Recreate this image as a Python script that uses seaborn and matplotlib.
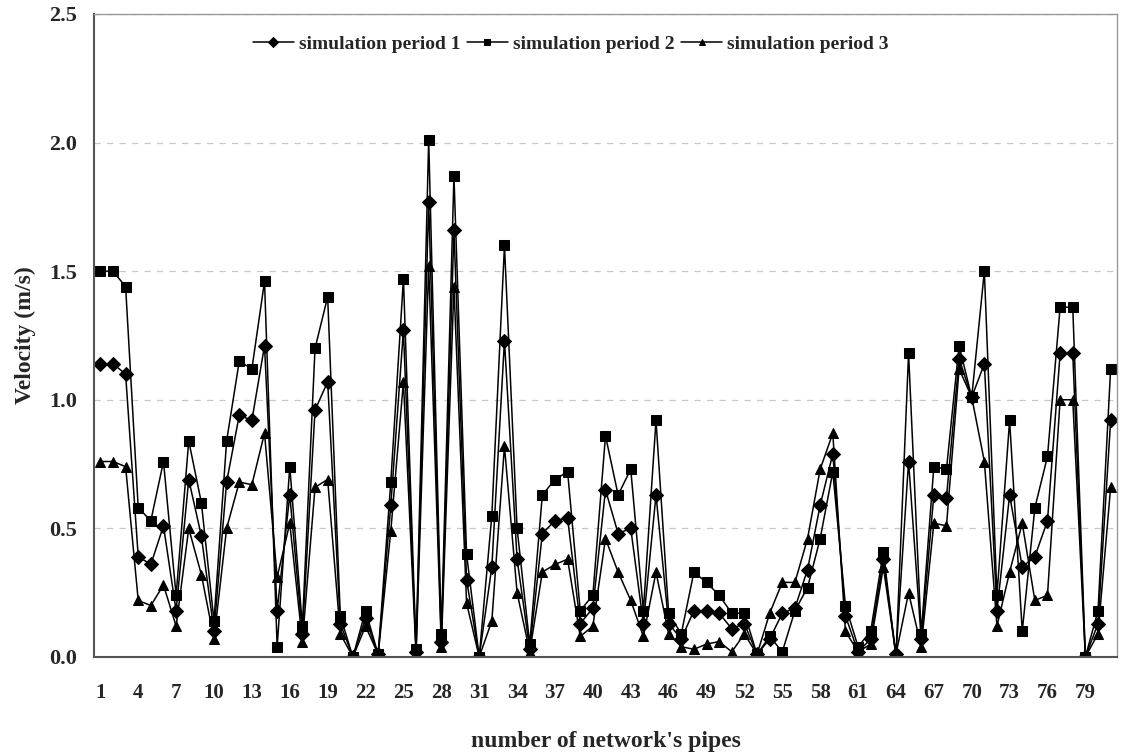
import numpy as np
import pandas as pd
import matplotlib
matplotlib.use('Agg')
import matplotlib.pyplot as plt
import seaborn as sns

# Velocities, pipe 1..81
pipes = list(range(1, 82))

period1 = [1.14, 1.14, 1.10, 0.39, 0.36, 0.51, 0.18, 0.69, 0.47, 0.10,
           0.68, 0.94, 0.92, 1.21, 0.18, 0.63, 0.09, 0.96, 1.07, 0.13,
           0.00, 0.15, 0.01, 0.59, 1.27, 0.02, 1.77, 0.06, 1.66, 0.30,
           0.00, 0.35, 1.23, 0.38, 0.03, 0.48, 0.53, 0.54, 0.13, 0.19,
           0.65, 0.48, 0.50, 0.13, 0.63, 0.13, 0.07, 0.18, 0.18, 0.17,
           0.11, 0.13, 0.01, 0.07, 0.17, 0.19, 0.34, 0.59, 0.79, 0.16,
           0.02, 0.07, 0.38, 0.01, 0.76, 0.07, 0.63, 0.62, 1.16, 1.01,
           1.14, 0.18, 0.63, 0.35, 0.39, 0.53, 1.18, 1.18, 0.00, 0.13, 0.92]

period2 = [1.50, 1.50, 1.44, 0.58, 0.53, 0.76, 0.24, 0.84, 0.60, 0.14,
           0.84, 1.15, 1.12, 1.46, 0.04, 0.74, 0.12, 1.20, 1.40, 0.16,
           0.00, 0.18, 0.01, 0.68, 1.47, 0.03, 2.01, 0.09, 1.87, 0.40,
           0.00, 0.55, 1.60, 0.50, 0.05, 0.63, 0.69, 0.72, 0.18, 0.24,
           0.86, 0.63, 0.73, 0.18, 0.92, 0.17, 0.09, 0.33, 0.29, 0.24,
           0.17, 0.17, 0.01, 0.08, 0.02, 0.18, 0.27, 0.46, 0.72, 0.20,
           0.04, 0.10, 0.41, 0.00, 1.18, 0.09, 0.74, 0.73, 1.21, 1.01,
           1.50, 0.24, 0.92, 0.10, 0.58, 0.78, 1.36, 1.36, 0.00, 0.18, 1.12]

period3 = [0.76, 0.76, 0.74, 0.22, 0.20, 0.28, 0.12, 0.50, 0.32, 0.07,
           0.50, 0.68, 0.67, 0.87, 0.31, 0.52, 0.06, 0.66, 0.69, 0.09,
           0.00, 0.12, 0.01, 0.49, 1.07, 0.01, 1.52, 0.04, 1.44, 0.21,
           0.00, 0.14, 0.82, 0.25, 0.02, 0.33, 0.36, 0.38, 0.08, 0.12,
           0.46, 0.33, 0.22, 0.08, 0.33, 0.09, 0.04, 0.03, 0.05, 0.06,
           0.02, 0.09, 0.01, 0.17, 0.29, 0.29, 0.46, 0.73, 0.87, 0.10,
           0.02, 0.05, 0.35, 0.01, 0.25, 0.04, 0.52, 0.51, 1.12, 1.01,
           0.76, 0.12, 0.33, 0.52, 0.22, 0.24, 1.00, 1.00, 0.00, 0.09, 0.66]

labels = ['simulation period 1', 'simulation period 2', 'simulation period 3']

# long format for seaborn
df = pd.DataFrame({
    'pipe': pipes * 3,
    'velocity': period1 + period2 + period3,
    'period': [labels[0]] * 81 + [labels[1]] * 81 + [labels[2]] * 81,
})

sns.set_style('white')
plt.rcParams['font.family'] = ['Liberation Serif', 'DejaVu Serif']
plt.rcParams['font.weight'] = 'bold'

fig = plt.figure(figsize=(11.22, 7.53), dpi=100)
ax = fig.add_axes([0.0838, 0.1275, 0.9117, 0.854])

sns.lineplot(data=df, x='pipe', y='velocity', hue='period', style='period',
             palette=['black'] * 3, markers=['D', 's', '^'], dashes=False,
             markersize=7, linewidth=1.1, markeredgecolor='black', ax=ax)

ax.set_xlim(0.5, 81.5)
ax.set_ylim(0, 2.5)
yt = np.arange(0, 2.51, 0.5)
ax.set_yticks(yt)
ax.set_yticklabels([f'{v:.1f}' for v in yt], fontsize=16, fontweight='bold')
ax.yaxis.grid(True, linestyle=(0, (5, 5)), color='#c8c8c8', linewidth=0.9)

# labels under every 3rd pipe, tick marks on category boundaries
ax.set_xticks(pipes[::3])
ax.set_xticklabels([str(p) for p in pipes[::3]], fontsize=15, fontweight='bold')
ax.set_xticks(np.arange(0.5, 81.6, 3), minor=True)
ax.tick_params(axis='x', which='major', length=0, pad=19)
ax.tick_params(axis='x', which='minor', length=6, width=1, color='#555555', direction='out')
ax.tick_params(axis='y', which='major', length=6, width=1, color='#555555', direction='out', pad=6)

for side in ['left', 'bottom']:
    ax.spines[side].set_color('#555555')
    ax.spines[side].set_linewidth(1.5)
for side in ['top', 'right']:
    ax.spines[side].set_color('#999999')
    ax.spines[side].set_linewidth(1.0)

ax.set_xlabel("number of network's pipes", fontsize=17, fontweight='bold', labelpad=20)
ax.set_ylabel('Velocity (m/s)', fontsize=17, fontweight='bold', labelpad=10)

leg = ax.legend(loc='center', bbox_to_anchor=(0.466, 0.953), ncol=3, frameon=False,
                handlelength=2.1, handletextpad=0.25, columnspacing=0.35,
                prop={'weight': 'bold', 'size': 14})
for h in leg.legend_handles:
    h.set_markersize(5)

fig.savefig('out.png', dpi=100)
